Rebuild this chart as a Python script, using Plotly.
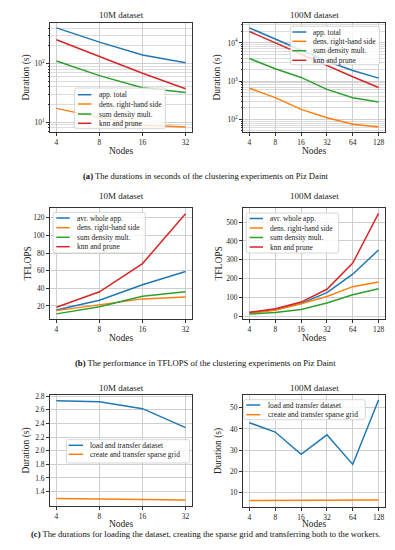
import math
import plotly.graph_objects as go

# ---------------- data ----------------
nodes_10m = [4, 8, 16, 32]
nodes_100m = [4, 8, 16, 32, 64, 128]

dur10_total = [405, 231, 139, 103]
dur10_dens = [17.1, 11.9, 8.9, 8.2]
dur10_sum = [110, 62, 38.5, 32]
dur10_knn = [253, 130, 68, 37]

dur100_total = [24600, 12700, 6300, 3300, 1900, 1200]
dur100_dens = [650, 370, 183, 110, 75, 63]
dur100_sum = [3900, 2100, 1250, 610, 370, 285]
dur100_knn = [19800, 10000, 5000, 2500, 1300, 680]

tf10_avr = [15.5, 26.4, 44, 59]
tf10_dens = [14.7, 21.5, 28, 30]
tf10_sum = [11, 19, 31, 36]
tf10_knn = [18.5, 36, 68, 124.5]

tf100_avr = [18, 36, 68, 125, 223, 352]
tf100_dens = [16, 32, 66, 105, 157, 182]
tf100_sum = [11, 20, 36, 70, 114, 146]
tf100_knn = [21, 39, 75, 143, 282, 546]

load10 = [2.73, 2.717, 2.615, 2.337]
grid10 = [1.298, 1.288, 1.278, 1.278]
load100 = [42.9, 38.5, 28, 37.2, 23.2, 53.6]
grid100 = [6.2, 6.2, 6.3, 6.4, 6.2, 6.4]

names_dur = ["app. total", "dens. right-hand side", "sum density mult.", "knn and prune"]
names_tf = ["avr. whole app.", "dens. right-hand side", "sum density mult.", "knn and prune"]
names_load = ["load and transfer dataset", "create and transfer sparse grid"]

titles = ["10M dataset", "100M dataset"]
ylabels = ["Duration (s)", "Duration (s)", "TFLOPS", "TFLOPS", "Duration (s)", "Duration (s)"]
xlabel = "Nodes"
captions = [
    "<b>(a)</b> The durations in seconds of the clustering experiments on Piz Daint",
    "<b>(b)</b> The performance in TFLOPS of the clustering experiments on Piz Daint",
    "<b>(c)</b> The durations for loading the dataset, creating the sparse grid and transferring both to the workers.",
]

C = ["#1f77b4", "#ff7f0e", "#2ca02c", "#d62728"]
FONT = "Liberation Serif"
TXT = "#222222"
W, H = 395, 550

def px(x):
    return x / W

def py(y):
    return 1 - y / H

fig = go.Figure()

def add(series, names, nodes, idx):
    for i, (s, n) in enumerate(zip(series, names)):
        fig.add_trace(go.Scatter(
            x=nodes, y=s, name=n, mode="lines", showlegend=False,
            line=dict(color=C[i], width=1.5),
            xaxis="x" if idx == 1 else f"x{idx}",
            yaxis="y" if idx == 1 else f"y{idx}",
        ))

add([dur10_total, dur10_dens, dur10_sum, dur10_knn], names_dur, nodes_10m, 1)
add([dur100_total, dur100_dens, dur100_sum, dur100_knn], names_dur, nodes_100m, 2)
add([tf10_avr, tf10_dens, tf10_sum, tf10_knn], names_tf, nodes_10m, 3)
add([tf100_avr, tf100_dens, tf100_sum, tf100_knn], names_tf, nodes_100m, 4)
add([load10, grid10], names_load, nodes_10m, 5)
add([load100, grid100], names_load, nodes_100m, 6)

XL = (42, 184)
XR = (235, 377)
panels = {
    1: dict(x=XL, y=(15, 124), nodes=nodes_10m),
    2: dict(x=XR, y=(15, 124), nodes=nodes_100m),
    3: dict(x=XL, y=(200, 311), nodes=nodes_10m),
    4: dict(x=XR, y=(200, 311), nodes=nodes_100m),
    5: dict(x=XL, y=(387, 498), nodes=nodes_10m),
    6: dict(x=XR, y=(387, 499), nodes=nodes_100m),
}

tickfont = dict(family=FONT, size=7.5, color=TXT)
axcommon = dict(showline=True, linecolor="#333", linewidth=1, mirror=True,
                ticks="outside", ticklen=3, tickcolor="#333", tickwidth=0.8,
                showgrid=True, gridcolor="#cfcfcf", gridwidth=0.8, zeroline=False,
                tickfont=tickfont, automargin=False)

def minor_log(decades):
    vals = [m * 10 ** d for d in decades for m in range(2, 10)]
    return dict(tickvals=vals, showgrid=True, gridcolor="#dcdcdc", gridwidth=0.6,
                ticks="outside", ticklen=1.5, tickcolor="#333")

yconf = {
    1: dict(type="log", range=[0.83, 2.69], tickvals=[10, 100],
            ticktext=["10<sup>1</sup>", "10<sup>2</sup>"], minor=minor_log([0, 1, 2])),
    2: dict(type="log", range=[1.67, 4.52], tickvals=[100, 1000, 10000],
            ticktext=["10<sup>2</sup>", "10<sup>3</sup>", "10<sup>4</sup>"], minor=minor_log([1, 2, 3, 4])),
    3: dict(range=[5.2, 131], tickvals=[20, 40, 60, 80, 100, 120]),
    4: dict(range=[-15, 575], tickvals=[0, 100, 200, 300, 400, 500]),
    5: dict(range=[1.19, 2.815], tickvals=[1.4, 1.6, 1.8, 2.0, 2.2, 2.4, 2.6, 2.8],
            ticktext=["1.4", "1.6", "1.8", "2.0", "2.2", "2.4", "2.6", "2.8"]),
    6: dict(range=[3.1, 56], tickvals=[10, 20, 30, 40, 50]),
}

for k, p in panels.items():
    xn = "xaxis" if k == 1 else f"xaxis{k}"
    yn = "yaxis" if k == 1 else f"yaxis{k}"
    nds = p["nodes"]
    lo, hi = math.log10(nds[0]), math.log10(nds[-1])
    m = (hi - lo) * 0.05
    fig.layout[xn] = dict(axcommon, type="log", domain=[px(p["x"][0]), px(p["x"][1])],
                          range=[lo - m, hi + m], tickvals=nds, ticktext=[str(n) for n in nds],
                          anchor="y" if k == 1 else f"y{k}")
    fig.layout[yn] = dict(axcommon, domain=[py(p["y"][1]), py(p["y"][0])],
                          anchor="x" if k == 1 else f"x{k}", **yconf[k])

shapes = []
ann = []

# axis titles
xtitle_y = {1: 143.3, 2: 143.3, 3: 330, 4: 330, 5: 516, 6: 516}
ytitle_x = {1: 18, 2: 209, 3: 19, 4: 210, 5: 18, 6: 210}
for k, p in panels.items():
    ann.append(dict(text=xlabel, x=px((p["x"][0] + p["x"][1]) / 2), y=py(xtitle_y[k]),
                    xref="paper", yref="paper", xanchor="center", yanchor="middle",
                    showarrow=False, font=dict(family=FONT, size=9.5, color=TXT)))
    ann.append(dict(text=ylabels[k - 1], x=px(ytitle_x[k]), y=py((p["y"][0] + p["y"][1]) / 2),
                    xref="paper", yref="paper", xanchor="center", yanchor="middle",
                    textangle=-90, showarrow=False, font=dict(family=FONT, size=9.5, color=TXT)))

def rounded_rect(x0, y0, x1, y1, r=2.0):
    rx, ry = r / W, r / H
    X0, X1 = px(x0), px(x1)
    Yt, Yb = py(y0), py(y1)
    return (f"M {X0 + rx},{Yt} L {X1 - rx},{Yt} Q {X1},{Yt} {X1},{Yt - ry} "
            f"L {X1},{Yb + ry} Q {X1},{Yb} {X1 - rx},{Yb} L {X0 + rx},{Yb} "
            f"Q {X0},{Yb} {X0},{Yb + ry} L {X0},{Yt - ry} Q {X0},{Yt} {X0 + rx},{Yt} Z")

# legends (box, rows, glyph x-range, text x) in pixels
legends = [
    dict(box=(66.7, 80, 157.3, 120.7), rows=[86.7, 96, 106, 115.3], g=(70, 83.3), t=88.5, names=names_dur),
    dict(box=(282.3, 18.3, 371.7, 56.7), rows=[24, 33.3, 42.7, 52.3], g=(284.3, 298.3), t=302.5, names=names_dur),
    dict(box=(45, 204.3, 137.3, 245), rows=[210, 219.7, 229.3, 238.7], g=(48.3, 61.7), t=67, names=names_tf),
    dict(box=(238.3, 205, 330.7, 245), rows=[210.5, 220, 229.5, 239], g=(241.7, 255), t=260, names=names_tf),
    dict(box=(58.3, 431.7, 181.7, 455), rows=[437.3, 446.3], g=(60.7, 75), t=80.3, names=names_load),
    dict(box=(235.7, 391.7, 357.3, 411.7), rows=[397, 406.7], g=(238.3, 252.3), t=257.6, names=names_load),
]
for lg in legends:
    x0, y0, x1, y1 = lg["box"]
    shapes.append(dict(type="path", xref="paper", yref="paper", path=rounded_rect(x0, y0, x1, y1),
                       fillcolor="rgba(255,255,255,0.82)",
                       line=dict(color="#cccccc", width=0.8), layer="above"))
    for i, (r, n) in enumerate(zip(lg["rows"], lg["names"])):
        shapes.append(dict(type="line", xref="paper", yref="paper", x0=px(lg["g"][0]),
                           x1=px(lg["g"][1]), y0=py(r), y1=py(r),
                           line=dict(color=C[i], width=1.5), layer="above"))
        ann.append(dict(text=n, x=px(lg["t"]), y=py(r), xref="paper", yref="paper",
                        xanchor="left", yanchor="middle", showarrow=False,
                        font=dict(family=FONT, size=7.5, color=TXT)))

# panel titles
for ty in (7, 188, 380):
    for t, xr in zip(titles, (XL, XR)):
        ann.append(dict(text=t, x=px((xr[0] + xr[1]) / 2), y=py(ty), xref="paper", yref="paper",
                        xanchor="center", yanchor="middle", showarrow=False,
                        font=dict(family=FONT, size=9, color=TXT)))
# captions
for cy, cap in zip([168, 355, 526], captions):
    ann.append(dict(text=cap, x=0.5, y=py(cy), xref="paper", yref="paper",
                    xanchor="center", yanchor="middle", showarrow=False,
                    font=dict(family=FONT, size=8.6, color="#111")))

fig.update_layout(
    width=W, height=H, margin=dict(l=0, r=0, t=0, b=0, autoexpand=False),
    paper_bgcolor="white", plot_bgcolor="white",
    annotations=ann, shapes=shapes, showlegend=False,
    font=dict(family=FONT),
)

fig.write_html("out.html")
